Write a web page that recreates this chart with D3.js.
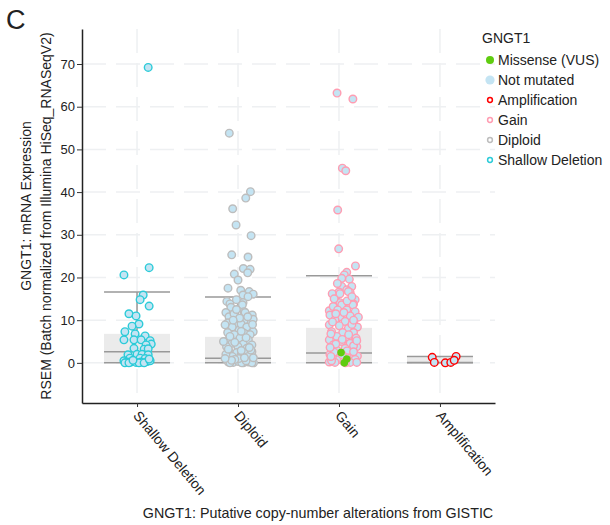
<!DOCTYPE html>
<html>
<head>
<meta charset="utf-8">
<script src="https://cdn.jsdelivr.net/npm/d3@7/dist/d3.min.js"></script>
<style>
  body { margin: 0; background: #fff; }
  svg text { font-family: "Liberation Sans", Arial, sans-serif; fill: #222; }
</style>
</head>
<body>
<div id="chart"></div>
<script>
// categories on the x axis
var categories = ["Shallow Deletion", "Diploid", "Gain", "Amplification"];
var yTicks = [0, 10, 20, 30, 40, 50, 60, 70];

// box plot summaries per category
var q1 = [0, 0, 0, 0];
var median = [2.6, 1.1, 2.3, 0.1];
var q3 = [6.8, 6.1, 8.2, 1.3];
var whiskerLow = [0, 0, 0, 0];
var whiskerHigh = [16.6, 15.4, 20.4, 1.5];

// samples: [jitter (-1..1), expression]
var shallowPts = [[0.69,69.2],[0.75,22.3],[-0.81,20.6],[0.38,15.9],[0.19,14.8],[0.75,13.3],[-0.5,11.5],[-0.06,11.0],
  [0.12,9.1],[-0.31,8.6],[-0.75,7.3],[-0.12,6.8],[-0.81,5.4],[-0.19,5.4],[0.5,6.3],[0.25,5.4],[0.81,5.2],[0.88,4.4],
  [0.56,4.2],[-0.19,3.4],[0.44,3.2],[0.69,3.3],[-0.56,1.9],[0,2.0],[0.31,2.0],[0.69,1.9],[-0.44,1.1],[0.19,1.1],
  [0.5,1.0],[-0.81,0.5],[-0.62,0.2],[-0.38,0.2],[-0.06,0.1],[0.25,0.2],[0.62,0.3],[-0.75,0],[-0.5,0],[0.12,0],
  [0.44,0],[0.81,0.5],[-0.25,0.6],[0.75,0.9]];
var diploidPts = [[-0.54,53.8],[0.77,40.1],[0.48,38.6],[-0.33,36.1],[-0.12,32.3],[0.81,29.8],[-0.39,25.3],[0.62,24.8],
  [0.33,22.1],[0.75,21.9],[0.6,21.1],[-0.23,20.8],[0,19.4],[-0.62,17.5],[0.17,17.0],[0.69,16.7],[0.94,16.1],[0.31,15.9],
  [0.62,15.5],[-0.69,14.4],[-0.5,13.8],[0.31,14.1],[-0.44,13.0],[0.27,13.6],[-0.75,11.8],[-0.56,10.8],[-0.25,11.5],
  [0.38,12.0],[0.88,11.2],[0.75,9.9],[0.44,11.8],[0.94,10.2],[-0.62,9.4],[-0.19,8.7],[0.38,9.9],[0.06,7.7],[0.69,8.1],
  [0.94,7.3],[0.19,9.1],[0.54,8.4],[-0.36,8.4],[-0.64,7.1],[-0.23,6.6],[0.36,7.0],[0.75,6.6],[0.12,5.8],[-0.61,5.4],
  [0.64,5.4],[-0.36,4.6],[0.33,4.4],[0.86,4.2],[-0.71,3.8],[0,3.8],[0.54,3.4],[-0.54,2.6],[-0.08,2.4],[0.44,2.4],
  [0.86,2.6],[0.19,1.9],[-0.36,1.5],[0.64,1.5],[-0.6,0.2],[-0.29,0.1],[0.02,0.3],[0.33,0],[0.64,0.2],[0.96,0],
  [-0.5,0],[0.23,0],[0.86,0],[-0.9,5.0],[0.8,3.0],[-0.75,2.0],[0.05,1.0],[-0.2,0.8],[0.5,0.5],[-0.1,12.5],[0.1,10.5],
  [-0.4,0.6],[0.4,1.2],[-0.8,1.0],[0.7,3.6],[-0.2,4.8],[0.5,5.9],[-0.5,6.2],[0.2,7.4],[-0.8,8.9],[0.9,9.0],
  [-0.3,10.0],[0.6,10.8],[-0.1,14.8],[0.2,2.9],[-0.6,3.2],[0.95,1.2]];
var gainPts = [[-0.12,63.2],[0.86,61.8],[0.21,45.6],[0.42,45.0],[-0.08,35.8],[-0.02,26.7],[1.02,22.7],[0.48,21.2],
  [0.33,20.6],[0.64,19.6],[0.17,19.8],[0.79,17.9],[0.17,17.9],[0.48,17.1],[0,16.6],[-0.42,16.2],[0.69,16.5],[0.06,16.2],
  [0.58,16.7],[1.0,14.8],[0.06,14.1],[0.58,13.6],[0.9,13.8],[-0.29,12.4],[-0.6,12.2],[0.29,12.9],[0.17,13.6],[0.86,13.6],
  [-0.36,13.2],[0.48,12.4],[1.0,12.0],[-0.08,12.4],[-0.56,11.2],[0.06,10.8],[0.69,11.0],[1.2,10.7],[-0.25,10.1],
  [0.38,9.7],[0.9,9.3],[-0.6,8.9],[0.02,8.7],[1.14,8.4],[0.58,8.1],[-0.46,7.3],[0.23,7.1],[0.9,7.1],[-0.14,6.2],
  [0.58,6.0],[1.06,5.8],[-0.6,5.4],[0.17,5.0],[0.69,4.6],[-0.36,4.2],[1.1,3.8],[0.38,3.4],[-0.14,3.0],[-0.56,2.0],
  [0.79,2.0],[1.14,1.6],[-0.36,1.0],[0.02,0.8],[1.0,0.8],[-0.6,0.2],[-0.25,0.1],[0.69,0.1],[1.1,0.1],[-0.46,0.5],
  [0.8,9.0],[-0.5,6.8],[0.2,5.5],[0.9,4.0],[0.5,2.8],[-0.3,2.5],[0.5,1.2],[0.3,0.3],[-0.3,15.0],[0.5,14.5],[-0.2,11.5],[0.9,10.0],
  [-0.5,1.5],[0.2,1.9],[0.9,2.6],[-0.2,4.4],[0.6,6.6],[-0.4,9.6],[0.3,11.8],[0.8,15.5],[-0.1,18.6],[0.4,0.0],[1.1,5.2],[-0.55,3.6]];
var ampPts = [[-0.48,1.3],[-0.35,0.1],[0.33,0],[0.67,0.1],[1.0,1.5],[0.88,0.6]];
// missense (VUS) samples, all in Gain
var missensePts = [[0.13,2.4],[0.48,0.9],[0.33,0.0]];

var cnaColors = ["#2ccbd8", "#bdbdbd", "#ff9db2", "#ff0000"];
var notMutatedFill = "#c4e4f3";
var missenseColor = "#5fcc10";

var legendItems = [
  {label: "Missense (VUS)", kind: "filled", color: missenseColor},
  {label: "Not mutated", kind: "big", color: notMutatedFill},
  {label: "Amplification", kind: "ring", color: cnaColors[3]},
  {label: "Gain", kind: "ring", color: cnaColors[2]},
  {label: "Diploid", kind: "ring", color: cnaColors[1]},
  {label: "Shallow Deletion", kind: "ring", color: cnaColors[0]}
];

var width = 610, height = 525;
var plotLeft = 82, plotRight = 495, plotTop = 29, plotBottom = 403;

var svg = d3.select("#chart").append("svg")
  .attr("width", width)
  .attr("height", height);

var x = d3.scalePoint().domain(categories).range([plotLeft, plotRight]).padding(0.545);
var y = d3.scaleLinear().domain([-9.4, 78.2]).range([plotBottom, plotTop]);
var jitterW = x.step() * 0.16;
var boxW = 66;

// grid
svg.append("g").selectAll("line")
  .data(yTicks)
  .enter().append("line")
  .attr("x1", plotLeft).attr("x2", plotRight)
  .attr("y1", function(d) { return y(d); })
  .attr("y2", function(d) { return y(d); })
  .style("stroke", "#eef0f2").style("stroke-width", 1.5)
  .style("stroke-dasharray", "24,10");
svg.append("g").selectAll("line")
  .data(categories)
  .enter().append("line")
  .attr("y1", plotTop).attr("y2", plotBottom)
  .attr("x1", function(d) { return x(d); })
  .attr("x2", function(d) { return x(d); })
  .style("stroke", "#eef0f2").style("stroke-width", 1.5)
  .style("stroke-dasharray", "24,10");

// boxes
var boxes = svg.append("g").selectAll("g")
  .data(categories)
  .enter().append("g");
boxes.append("rect")
  .attr("x", function(d) { return x(d) - boxW / 2; })
  .attr("y", function(d, i) { return y(q3[i]); })
  .attr("width", boxW)
  .attr("height", function(d, i) { return y(q1[i]) - y(q3[i]); })
  .style("fill", "#ebebeb");
boxes.append("line")
  .attr("x1", function(d) { return x(d); })
  .attr("x2", function(d) { return x(d); })
  .attr("y1", function(d, i) { return y(q3[i]); })
  .attr("y2", function(d, i) { return y(whiskerHigh[i]); })
  .style("stroke", "#999").style("stroke-width", 1.5);
[whiskerHigh, median, whiskerLow].forEach(function(arr) {
  boxes.append("line")
    .attr("x1", function(d) { return x(d) - boxW / 2; })
    .attr("x2", function(d) { return x(d) + boxW / 2; })
    .attr("y1", function(d, i) { return y(arr[i]); })
    .attr("y2", function(d, i) { return y(arr[i]); })
    .style("stroke", "#999").style("stroke-width", 1.5);
});

// points
var groups = [shallowPts, diploidPts, gainPts, ampPts];
groups.forEach(function(pts, gi) {
  svg.append("g").selectAll("circle")
    .data(pts)
    .enter().append("circle")
    .attr("cx", function(d) { return x(categories[gi]) + d[0] * jitterW; })
    .attr("cy", function(d) { return y(d[1]); })
    .attr("r", 3.8)
    .style("fill", notMutatedFill)
    .style("stroke", cnaColors[gi])
    .style("stroke-width", 1.4);
});
svg.append("g").selectAll("circle")
  .data(missensePts)
  .enter().append("circle")
  .attr("cx", function(d) { return x("Gain") + d[0] * jitterW; })
  .attr("cy", function(d) { return y(d[1]); })
  .attr("r", 3.8)
  .style("fill", missenseColor);

// axes
var yAxis = svg.append("g")
  .attr("transform", "translate(" + plotLeft + ",0)")
  .call(d3.axisLeft(y).tickValues(yTicks).tickSize(5).tickSizeOuter(0).tickPadding(2));
yAxis.selectAll("text").style("font-size", "13px");
yAxis.selectAll("line").style("stroke", "#333");
yAxis.select(".domain").style("stroke", "#222").style("stroke-width", 1.5);

var xAxis = svg.append("g")
  .attr("transform", "translate(0," + plotBottom + ")")
  .call(d3.axisBottom(x).tickSize(4).tickSizeOuter(0));
xAxis.select(".domain").style("stroke", "#222").style("stroke-width", 1.5);
xAxis.selectAll("line").style("stroke", "#333");
xAxis.selectAll("text")
  .style("font-size", "14px")
  .attr("text-anchor", "start")
  .attr("x", 0).attr("y", 0).attr("dy", 0)
  .attr("transform", "translate(-5,13) rotate(50)");

// titles
svg.append("text")
  .attr("x", 318).attr("y", 518)
  .attr("text-anchor", "middle")
  .style("font-size", "14.3px")
  .text("GNGT1: Putative copy-number alterations from GISTIC");
svg.append("text")
  .attr("transform", "translate(31,206) rotate(-90)")
  .attr("text-anchor", "middle")
  .style("font-size", "14px")
  .text("GNGT1: mRNA Expression");
svg.append("text")
  .attr("transform", "translate(51,216) rotate(-90)")
  .attr("text-anchor", "middle")
  .style("font-size", "14px")
  .text("RSEM (Batch normalized from Illumina HiSeq_RNASeqV2)");
svg.append("text")
  .attr("x", 6).attr("y", 29)
  .style("font-size", "27px")
  .text("C");

// legend
var legend = svg.append("g").attr("transform", "translate(482,0)");
legend.append("text").attr("x", 0).attr("y", 43).style("font-size", "14px").text("GNGT1");
var li = legend.selectAll(".item")
  .data(legendItems)
  .enter().append("g")
  .attr("class", "item")
  .attr("transform", function(d, i) { return "translate(0," + (60 + i * 20) + ")"; });
li.append("circle")
  .attr("cx", 8).attr("cy", 0)
  .attr("r", function(d) { return d.kind == "ring" ? 2.4 : (d.kind == "big" ? 4.6 : 4); })
  .style("fill", function(d) { return d.kind == "ring" ? "none" : d.color; })
  .style("stroke", function(d) { return d.kind == "ring" ? d.color : "none"; })
  .style("stroke-width", 1.5);
li.append("text")
  .attr("x", 16).attr("y", 5)
  .style("font-size", "14px")
  .text(function(d) { return d.label; });
</script>
</body>
</html>
